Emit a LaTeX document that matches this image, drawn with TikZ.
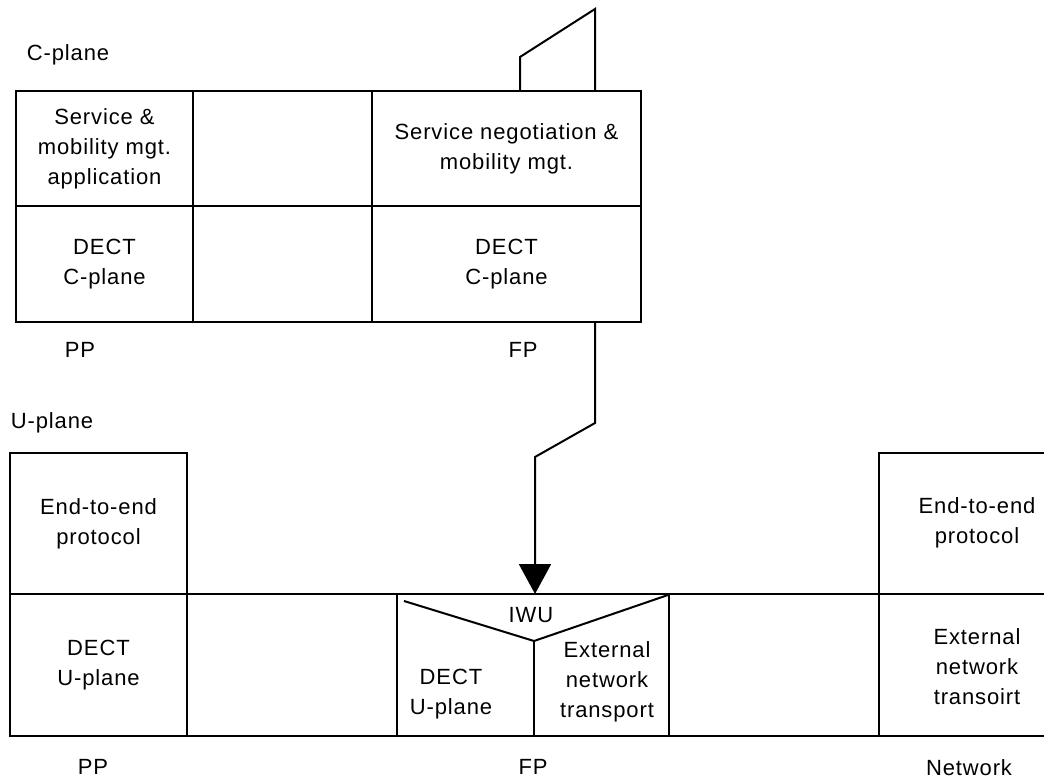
\documentclass[tikz,border=0pt]{standalone}
\usepackage{fontspec}
\setmainfont{Liberation Sans}[LetterSpace=4]
\usetikzlibrary{arrows.meta}
\begin{document}
\begin{tikzpicture}[x=1pt,y=-1pt,
  font=\fontsize{22}{30}\selectfont,
  cell/.style={draw, line width=2.4pt, inner sep=0pt, outer sep=0pt, align=center},
  lbl/.style={inner sep=0pt, align=center},
  wire/.style={line width=2pt}]
\useasboundingbox (0,0) rectangle (1044,783);
\clip (0,0) rectangle (1044,783);

% ---------- C-plane ----------
\node[lbl] (cplane) at (68,55) {C-plane};
\node[cell, minimum width=177pt, minimum height=115pt] (sm) at (104.5,148.5) {Service \&\\mobility mgt.\\application};
\node[cell, minimum width=179pt, minimum height=115pt] (e1) at (282.5,148.5) {};
\node[cell, minimum width=269pt, minimum height=115pt] (sn) at (506.5,148.5) {Service negotiation \&\\mobility mgt.};
\node[cell, minimum width=177pt, minimum height=116pt] (dc1) at (104.5,264) {DECT\\C-plane};
\node[cell, minimum width=179pt, minimum height=116pt] (e2) at (282.5,264) {};
\node[cell, minimum width=269pt, minimum height=116pt] (dc2) at (506.5,264) {DECT\\C-plane};
\node[lbl] (pp1) at (80,350) {PP};
\node[lbl] (fp1) at (523,350) {FP};

% shape above the FP block
\coordinate (t1) at (520,91);
\coordinate (t2) at (520,57);
\coordinate (t3) at (595,9);
\coordinate (t4) at (595,91);
\draw[wire] (t1) -- (t2) -- (t3) -- (t4);

% ---------- U-plane ----------
\node[lbl] (uplane) at (52,423) {U-plane};
\node[cell, minimum width=177pt, minimum height=141pt] (ee1) at (98.5,523.5) {End-to-end\\protocol};
\node[cell, minimum width=177pt, minimum height=142pt] (du1) at (98.5,665) {DECT\\U-plane};
\node[cell, minimum width=210pt, minimum height=142pt] (g1) at (292,665) {};
\node[cell, minimum width=272pt, minimum height=142pt] (iwu) at (533,665) {};
\node[cell, minimum width=210pt, minimum height=142pt] (g2) at (774,665) {};
\node[cell, minimum width=200pt, minimum height=142pt] (ext) at (979,665) {};
\node[cell, minimum width=200pt, minimum height=141pt] (ee2) at (979,523.5) {};
\node[lbl] at (977,523) {End-to-end\\protocol};
\node[lbl] at (977,667) {External\\network\\transoirt};

% IWU interior
\coordinate (v1) at (404,601);
\coordinate (v2) at (534,641);
\coordinate (v3) at (668,595);
\coordinate (v4) at (534,736);
\draw[wire] (v1) -- (v2) -- (v3);
\draw[wire] (v2) -- (v4);
\node[lbl] (iwul) at (531,615) {IWU};
\node[lbl] (dui) at (451,694) {DECT\\U-plane};
\node[lbl] (enti) at (607,682) {External\\network\\transport};

\node[lbl] (pp2) at (93,767) {PP};
\node[lbl] (fp2) at (533,767) {FP};
\node[lbl] (net) at (969,768) {Network};

% connector from FP C-plane to IWU
\coordinate (k1) at (595,423);
\coordinate (k2) at (535,457);
\draw[wire, -{Triangle[width=32pt,length=30pt]}] (dc2.south -| t3) -- (k1) -- (k2) -- (k2 |- iwu.north);
\end{tikzpicture}
\end{document}
